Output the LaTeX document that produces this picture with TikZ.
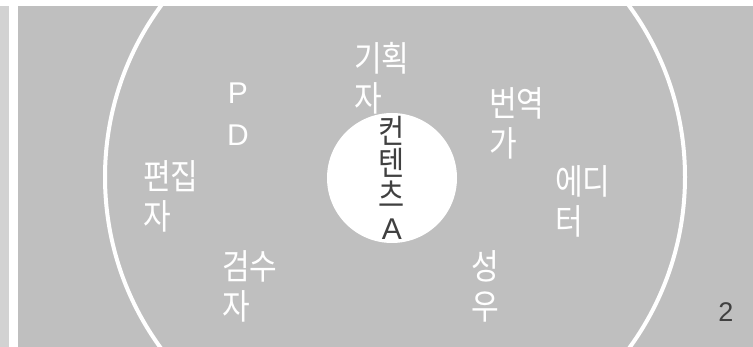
\documentclass[tikz,border=0pt]{standalone}
\usepackage{fontspec}
\setmainfont{Liberation Sans}
\newfontfamily\kr[FakeStretch=0.86]{Noto Sans CJK KR}
\newfontfamily\lat{Liberation Sans}
\definecolor{bggray}{HTML}{BFBFBF}
\definecolor{stripgray}{HTML}{D2D2D2}
\definecolor{darktext}{HTML}{404040}
\tikzset{
  lbl/.style={text=white, inner sep=0pt, align=left, font=\kr\fontsize{35}{40}\selectfont},
  ring/.style={draw=white, line width=4pt},
}
\begin{document}
\begin{tikzpicture}[x=1pt,y=1pt]
\useasboundingbox (0,0) rectangle (753,-347);
\fill[white] (0,0) rectangle (753,-347);
\fill[stripgray] (0,-6) rectangle (9,-347);
\fill[bggray] (18,-6) rectangle (753,-347);
\begin{scope}
\clip (18,-6) rectangle (753,-347);
\draw[ring] (395,-177) circle[radius=290];
\end{scope}
\node[circle, fill=white, minimum size=130pt, inner sep=0pt] (core) at (392,-178) {};
\node[text=darktext, inner sep=0pt, align=center, font=\kr\fontsize{33}{32}\selectfont] (coretext) at (392,-178) {컨\\텐\\츠\\{\lat\fontsize{30}{32}\selectfont A}};
\node[lbl, anchor=west] (planner) at (354,-78.5) {기획\\자};
\node[lbl, anchor=center, align=center, font=\lat\fontsize{30}{42}\selectfont] (pd) at (238,-114.5) {P\\D};
\node[lbl, anchor=west] (translator) at (489,-123.5) {번역\\가};
\node[lbl, anchor=west] (editor) at (143,-196) {편집\\자};
\node[lbl, anchor=west] (editor2) at (555,-201) {에디\\터};
\node[lbl, anchor=west] (reviewer) at (222,-286.5) {검수\\자};
\node[lbl, anchor=west] (voice) at (471,-286.5) {성\\우};
\node[text=darktext, inner sep=0pt, font=\lat\fontsize{27}{30}\selectfont] (page) at (726,-312) {2};
\end{tikzpicture}
\end{document}
